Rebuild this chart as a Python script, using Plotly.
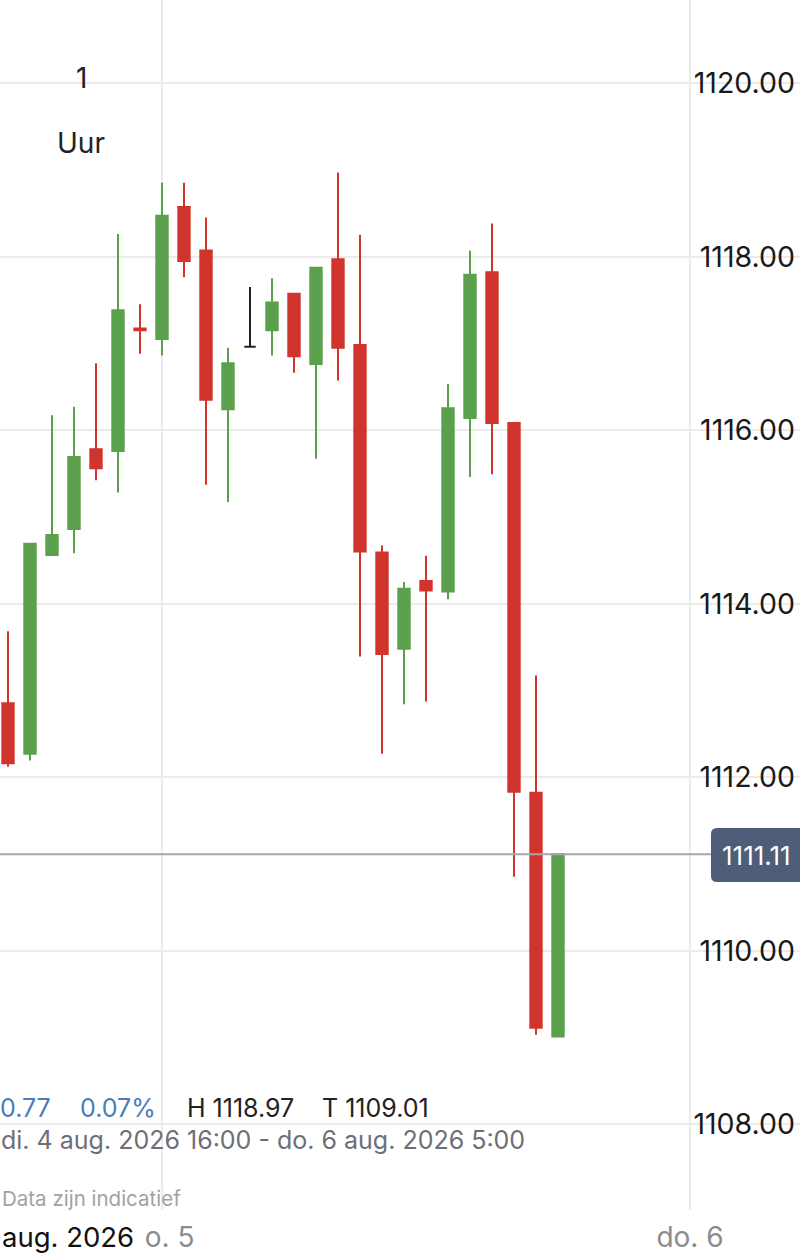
import plotly.graph_objects as go

# ---------------- data ----------------
times = [
    "2026-08-04 17:00", "2026-08-04 18:00", "2026-08-04 19:00", "2026-08-04 20:00",
    "2026-08-04 21:00", "2026-08-04 22:00", "2026-08-04 23:00", "2026-08-05 00:00",
    "2026-08-05 01:00", "2026-08-05 02:00", "2026-08-05 03:00", "2026-08-05 04:00",
    "2026-08-05 05:00", "2026-08-05 06:00", "2026-08-05 07:00", "2026-08-05 08:00",
    "2026-08-05 09:00", "2026-08-05 10:00", "2026-08-05 11:00", "2026-08-05 12:00",
    "2026-08-05 13:00", "2026-08-05 14:00", "2026-08-05 15:00", "2026-08-05 16:00",
    "2026-08-05 17:00", "2026-08-05 18:00",
]
open_ = [1112.85, 1112.27, 1114.56, 1114.86, 1115.78, 1115.76, 1117.17, 1117.05,
         1118.57, 1118.07, 1116.24, 1116.96, 1117.15, 1117.57, 1116.76, 1117.97,
         1116.98, 1114.59, 1113.48, 1114.26, 1114.14, 1116.14, 1117.82, 1116.08,
         1111.82, 1109.01]
high = [1113.68, 1114.70, 1116.17, 1116.27, 1116.77, 1118.26, 1117.45, 1118.85,
        1118.85, 1118.45, 1116.95, 1117.65, 1117.75, 1117.57, 1117.87, 1118.97,
        1118.25, 1114.67, 1114.25, 1114.55, 1116.53, 1118.07, 1118.38, 1116.08,
        1113.17, 1111.11]
low = [1112.12, 1112.19, 1114.56, 1114.58, 1115.42, 1115.28, 1116.88, 1116.86,
       1117.76, 1115.37, 1115.17, 1116.96, 1116.86, 1116.66, 1115.67, 1116.57,
       1113.39, 1112.27, 1112.84, 1112.87, 1114.05, 1115.46, 1115.49, 1110.85,
       1109.03, 1109.01]
close = [1112.16, 1114.69, 1114.79, 1115.69, 1115.56, 1117.38, 1117.15, 1118.47,
         1117.95, 1116.35, 1116.77, 1116.96, 1117.47, 1116.85, 1117.87, 1116.95,
         1114.60, 1113.42, 1114.17, 1114.15, 1116.25, 1117.79, 1116.08, 1111.83,
         1109.11, 1111.11]

last_price = 1111.11
y_ticks = [1108, 1110, 1112, 1114, 1116, 1118, 1120]
x_tick_vals = ["2026-08-05 00:00", "2026-08-06 00:00"]
# first day label is partly hidden behind the sticky month label in the original
x_tick_text = ["\u2009\u2009\u2009o. 5", "do. 6"]
x_range = ["2026-08-04 16:38:11", "2026-08-06 05:00"]
y_range = [1107.01, 1120.957]

summary_change = "0.77"
summary_pct = "0.07%"
summary_high = "H 1118.97"
summary_low = "T 1109.01"
period_text = "di. 4 aug. 2026 16:00 - do. 6 aug. 2026 5:00"
month_label = "aug. 2026"

# ---------------- styling ----------------
W, H = 800, 1256
PLOT_H = 1210
GREEN = "#5ba14d"
RED = "#d0342c"
GRID = "#ebebeb"
FONT = "Inter"


def px(xp):
    return xp / W


def py(yp):
    return 1 - yp / PLOT_H


flat = [o == c for o, c in zip(open_, close)]
idx_main = [i for i, f in enumerate(flat) if not f]
idx_flat = [i for i, f in enumerate(flat) if f]


def pick(arr, idx):
    return [arr[i] for i in idx]


fig = go.Figure()
fig.add_trace(go.Candlestick(
    x=pick(times, idx_main), open=pick(open_, idx_main), high=pick(high, idx_main),
    low=pick(low, idx_main), close=pick(close, idx_main),
    increasing=dict(line=dict(color=GREEN, width=2), fillcolor=GREEN),
    decreasing=dict(line=dict(color=RED, width=2), fillcolor=RED),
    whiskerwidth=0, showlegend=False,
))
fig.add_trace(go.Candlestick(
    x=pick(times, idx_flat), open=pick(open_, idx_flat), high=pick(high, idx_flat),
    low=pick(low, idx_flat), close=pick(close, idx_flat),
    increasing=dict(line=dict(color="#222222", width=2), fillcolor="#222222"),
    decreasing=dict(line=dict(color="#222222", width=2), fillcolor="#222222"),
    whiskerwidth=0, showlegend=False,
))

shapes = [
    # white background behind y tick labels
    dict(type="rect", xref="paper", yref="paper", x0=px(694), x1=px(796), y0=0, y1=1,
         fillcolor="white", line=dict(width=0), layer="between"),
    # top-left interval box
    dict(type="rect", xref="paper", yref="paper", x0=px(27), x1=px(135), y0=py(175), y1=py(40),
         fillcolor="white", line=dict(width=0), layer="between"),
    # info text box
    dict(type="rect", xref="paper", yref="paper", x0=0, x1=px(545), y0=py(1162), y1=py(1088),
         fillcolor="white", line=dict(width=0), layer="between"),
    # last price line
    dict(type="line", xref="paper", yref="y", x0=0, x1=px(712), y0=last_price, y1=last_price,
         line=dict(color="#a3a8b0", width=2), layer="above"),
]
# rounded label box for last price
r = 6
bx0, bx1 = 711, 806
by0, by1 = 828, 882
path = (f"M {px(bx0 + r)},{py(by0)} L {px(bx1)},{py(by0)} L {px(bx1)},{py(by1)} "
        f"L {px(bx0 + r)},{py(by1)} Q {px(bx0)},{py(by1)} {px(bx0)},{py(by1 - r)} "
        f"L {px(bx0)},{py(by0 + r)} Q {px(bx0)},{py(by0)} {px(bx0 + r)},{py(by0)} Z")
shapes.append(dict(type="path", xref="paper", yref="paper", path=path,
                   fillcolor="#4e5d78", line=dict(width=0), layer="above"))

ann = []


def add_text(text, xp, yp, size, color, xanchor="left"):
    ann.append(dict(text=text, xref="paper", yref="paper", x=px(xp), y=py(yp),
                    xanchor=xanchor, yanchor="middle", showarrow=False,
                    font=dict(family=FONT, size=size, color=color)))


add_text("1", 81, 78, 28, "#222222", "center")
add_text("Uur", 81, 143, 28, "#222222", "center")
add_text(summary_change, -2, 1108, 25, "#4a7db8")
add_text(summary_pct, 78, 1108, 25, "#4a7db8")
add_text(summary_high, 185, 1108, 25, "#222222")
add_text(summary_low, 320, 1108, 25, "#222222")
add_text(period_text, -1, 1140, 25, "#6e6e78")
add_text("Data zijn indicatief", 0, 1198, 20.5, "#a2a2a2")
add_text(month_label, 0, 1237, 27.5, "#111111")
add_text(f"{last_price:.2f}", 756, 855, 26, "white", "center")

fig.update_layout(
    width=W, height=H,
    margin=dict(l=0, r=0, t=0, b=H - PLOT_H, pad=0),
    paper_bgcolor="white", plot_bgcolor="white",
    boxgap=0.26,
    shapes=shapes, annotations=ann,
    font=dict(family=FONT),
    xaxis=dict(
        type="date", range=x_range, rangeslider=dict(visible=False),
        tickvals=x_tick_vals, ticktext=x_tick_text,
        tickfont=dict(family=FONT, size=28, color="#8c8c8c"),
        ticklabelstandoff=8, ticklabeloverflow="allow",
        showgrid=True, gridcolor=GRID, gridwidth=2, zeroline=False,
        showline=False, ticks="", fixedrange=True,
    ),
    yaxis=dict(
        side="right", range=y_range, tickvals=y_ticks, tickformat=".2f",
        ticklabelposition="inside", ticklabelstandoff=2,
        tickfont=dict(family=FONT, size=28.5, color="#1a1a1a"),
        showgrid=True, gridcolor=GRID, gridwidth=2, zeroline=False,
        showline=False, ticks="", fixedrange=True,
    ),
)

fig.write_html("out.html", config={"displayModeBar": False},
               post_script="document.body.style.margin='0';")
